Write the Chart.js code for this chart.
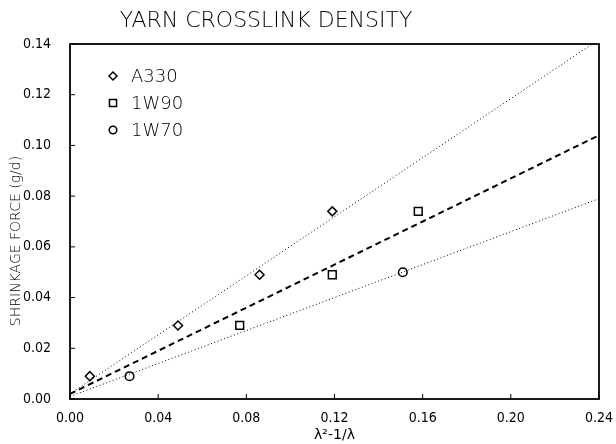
<!DOCTYPE html>
<html>
<head>
<meta charset="utf-8">
<script src="https://cdn.jsdelivr.net/npm/chart.js@4"></script>
<style>
  html, body { margin: 0; padding: 0; background: #fff; }
  #wrap { width: 616px; height: 444px; }
</style>
</head>
<body>
<div id="wrap"><canvas id="chart" width="616" height="444"></canvas></div>
<script>
// Measured points
const a330X = [0.009, 0.049, 0.086, 0.119];
const a330Y = [0.009, 0.029, 0.049, 0.074];
const w90X = [0.077, 0.119, 0.158];
const w90Y = [0.029, 0.049, 0.074];
const w70X = [0.027, 0.151];
const w70Y = [0.009, 0.050];

// Fitted lines (end points)
const a330FitX = [0, 0.237];
const a330FitY = [0.002, 0.140];
const w90FitX = [0, 0.24];
const w90FitY = [0.002, 0.104];
const w70FitX = [0, 0.24];
const w70FitY = [0.001, 0.079];

const seriesNames = ['A330', '1W90', '1W70'];
const xTicks = [0, 0.04, 0.08, 0.12, 0.16, 0.20, 0.24];
const yTicks = [0, 0.02, 0.04, 0.06, 0.08, 0.10, 0.12, 0.14];

const font = '"DejaVu Sans", sans-serif';
const tickFont = '"DejaVu Sans Condensed", "DejaVu Sans", sans-serif';
const pts = (xs, ys) => xs.map((x, i) => ({ x: x, y: ys[i] }));

const markerStyle = {
    showLine: false,
    borderColor: '#000',
    backgroundColor: '#fff',
    pointBorderWidth: 1.5,
};

const fitStyle = {
    showLine: true,
    pointRadius: 0,
    borderColor: '#000',
    fill: false,
};

const styles = ['rectRot', 'rect', 'circle'];
const radii = [4.5, 5.5, 4.3];

// Title, box, inward ticks, y title and the legend inside the plot
const decor = {
    id: 'decor',
    afterDraw(chart) {
        const ctx = chart.ctx;
        const a = chart.chartArea;
        ctx.save();
        ctx.strokeStyle = '#000';
        ctx.lineWidth = 1.8;
        ctx.strokeRect(a.left, a.top, a.right - a.left, a.bottom - a.top);

        ctx.lineWidth = 1;
        const xs = chart.scales.x, ys = chart.scales.y;
        xTicks.forEach(v => {
            const px = xs.getPixelForValue(v);
            ctx.beginPath();
            ctx.moveTo(px, a.bottom);
            ctx.lineTo(px, a.bottom - 5);
            ctx.stroke();
        });
        yTicks.forEach(v => {
            const py = ys.getPixelForValue(v);
            ctx.beginPath();
            ctx.moveTo(a.left, py);
            ctx.lineTo(a.left + 5, py);
            ctx.stroke();
        });

        ctx.fillStyle = '#000';
        ctx.textAlign = 'center';
        ctx.textBaseline = 'middle';

        // title
        ctx.font = '200 22px ' + font;
        ctx.fillText('YARN CROSSLINK DENSITY', 266, 21);

        // y title
        ctx.save();
        ctx.translate(16, 241);
        ctx.rotate(-Math.PI / 2);
        ctx.font = '200 14px ' + font;
        ctx.fillText('SHRINKAGE FORCE (g/d)', 0, 0);
        ctx.restore();

        // legend
        ctx.font = '200 18px ' + font;
        ctx.textAlign = 'left';
        seriesNames.forEach((name, i) => {
            const y = 76 + i * 27;
            ctx.strokeStyle = '#000';
            ctx.fillStyle = '#fff';
            ctx.lineWidth = 1.5;
            Chart.helpers.drawPoint(ctx, { pointStyle: styles[i], radius: radii[i] - 0.5, borderWidth: 1.5 }, 113, y);
            ctx.fillStyle = '#000';
            ctx.fillText(name, 131, y + 1);
        });
        ctx.restore();
    }
};

new Chart(document.getElementById('chart'), {
    type: 'scatter',
    data: {
        datasets: [
            { ...fitStyle, data: pts(a330FitX, a330FitY), borderWidth: 1, borderDash: [1, 2.5] },
            { ...fitStyle, data: pts(w90FitX, w90FitY), borderWidth: 2, borderDash: [6, 4] },
            { ...fitStyle, data: pts(w70FitX, w70FitY), borderWidth: 1, borderDash: [1, 2.5] },
            { ...markerStyle, label: seriesNames[0], data: pts(a330X, a330Y), pointStyle: styles[0], pointRadius: radii[0] },
            { ...markerStyle, label: seriesNames[1], data: pts(w90X, w90Y), pointStyle: styles[1], pointRadius: radii[1] },
            { ...markerStyle, label: seriesNames[2], data: pts(w70X, w70Y), pointStyle: styles[2], pointRadius: radii[2] },
        ]
    },
    options: {
        responsive: false,
        animation: false,
        layout: { padding: { top: 44, right: 16, left: 0, bottom: 0 } },
        plugins: {
            legend: { display: false },
            tooltip: { enabled: false }
        },
        scales: {
            x: {
                type: 'linear',
                min: 0,
                max: 0.24,
                afterBuildTicks: s => { s.ticks = xTicks.map(v => ({ value: v })); },
                afterFit: s => { s.height = 45; },
                grid: { display: false },
                border: { display: false },
                ticks: {
                    color: '#000',
                    font: { family: tickFont, size: 14 },
                    padding: 3,
                    maxRotation: 0,
                    autoSkip: false,
                    callback: v => v.toFixed(2)
                },
                title: {
                    display: true,
                    text: 'λ²-1/λ',
                    color: '#000',
                    font: { family: font, size: 14 },
                    padding: { top: 0, bottom: 0 }
                }
            },
            y: {
                type: 'linear',
                min: 0,
                max: 0.14,
                afterBuildTicks: s => { s.ticks = yTicks.map(v => ({ value: v })); },
                afterFit: s => { s.width = 70; },
                grid: { display: false },
                border: { display: false },
                ticks: {
                    color: '#000',
                    font: { family: tickFont, size: 14 },
                    padding: 11,
                    autoSkip: false,
                    callback: v => v.toFixed(2)
                },
                title: { display: false }
            }
        }
    },
    plugins: [decor]
});
</script>
</body>
</html>
